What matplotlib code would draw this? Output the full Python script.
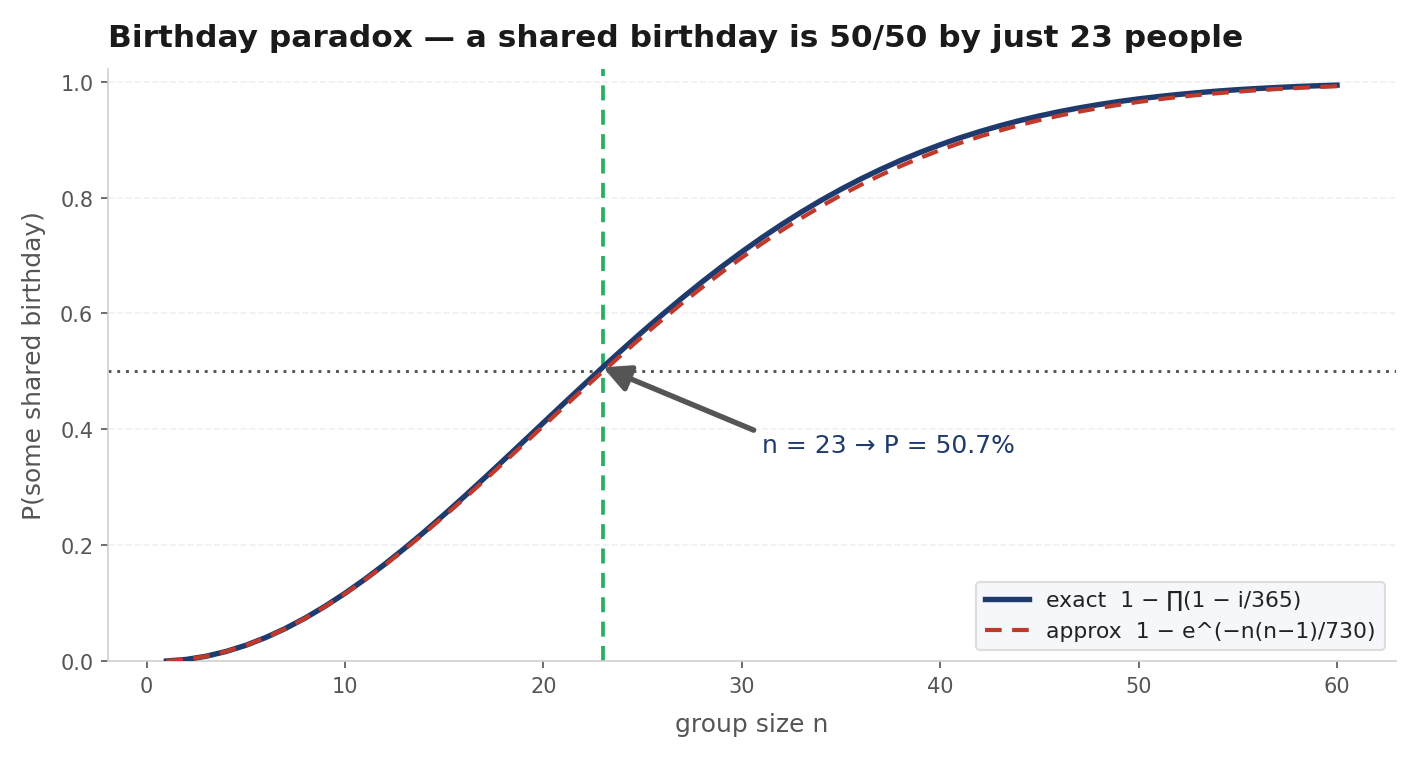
import numpy as np
import matplotlib.pyplot as plt

plt.rcParams["font.family"] = ["DejaVu Sans"]

# group sizes and probabilities
n_vals = list(range(1, 61))

p_exact = [0.0, 0.0027, 0.0082, 0.0164, 0.0271, 0.0405, 0.0562, 0.0743, 0.0946, 0.1169,
           0.1411, 0.1670, 0.1944, 0.2231, 0.2529, 0.2836, 0.3150, 0.3469, 0.3791, 0.4114,
           0.4437, 0.4757, 0.5073, 0.5383, 0.5687, 0.5982, 0.6269, 0.6545, 0.6810, 0.7063,
           0.7305, 0.7533, 0.7750, 0.7953, 0.8144, 0.8322, 0.8487, 0.8641, 0.8782, 0.8912,
           0.9032, 0.9140, 0.9239, 0.9329, 0.9410, 0.9483, 0.9548, 0.9606, 0.9658, 0.9704,
           0.9744, 0.9780, 0.9811, 0.9839, 0.9863, 0.9883, 0.9901, 0.9917, 0.9930, 0.9941]

p_approx = [0.0, 0.0027, 0.0082, 0.0163, 0.0270, 0.0403, 0.0559, 0.0738, 0.0939, 0.1160,
            0.1399, 0.1654, 0.1924, 0.2207, 0.2500, 0.2802, 0.3110, 0.3425, 0.3740, 0.4058,
            0.4375, 0.4689, 0.5000, 0.5305, 0.5604, 0.5895, 0.6178, 0.6450, 0.6712, 0.6963,
            0.7203, 0.7431, 0.7646, 0.7850, 0.8041, 0.8220, 0.8388, 0.8543, 0.8687, 0.8820,
            0.8942, 0.9055, 0.9157, 0.9251, 0.9337, 0.9414, 0.9483, 0.9545, 0.9601, 0.9651,
            0.9696, 0.9736, 0.9771, 0.9802, 0.9829, 0.9853, 0.9874, 0.9892, 0.9908, 0.9922]

n_half = 23
p_half = 0.507

fig = plt.figure(figsize=(9.43, 5.06), dpi=150)
ax = fig.add_axes([0.0763, 0.1278, 0.9103, 0.78])

ax.plot(n_vals, p_exact, color="#1f3b6e", lw=2.6, label="exact  1 − ∏(1 − i/365)", zorder=3)
ax.plot(n_vals, p_approx, color="#c0392b", lw=2.0, ls=(0, (4, 2.5)),
        label="approx  1 − e^(−n(n−1)/730)", zorder=4)

ax.axvline(n_half, color="#27ae60", lw=1.8, ls=(0, (4, 2.5)), zorder=2)
ax.axhline(0.5, color="#555555", lw=1.4, ls=(0, (1, 2)), zorder=2)

ax.annotate("n = 23 → P = 50.7%", xy=(n_half, p_half), xytext=(31, 0.36),
            fontsize=12, color="#1f3b6e",
            arrowprops=dict(arrowstyle="-|>,head_length=0.9,head_width=0.45",
                            color="#555555", lw=2.6, relpos=(0, 1),
                            shrinkA=2, shrinkB=0))

ax.set_ylim(0, 1.022)
ax.set_xlabel("group size n", fontsize=12, color="#555555", labelpad=8)
ax.set_ylabel("P(some shared birthday)", fontsize=12, color="#555555", labelpad=7)
ax.set_title("Birthday paradox — a shared birthday is 50/50 by just 23 people",
             loc="left", fontsize=15, fontweight="bold", color="#1a1a1a", pad=11)

ax.grid(axis="y", color="#f0f0f4", ls="--", lw=0.8)
ax.set_axisbelow(True)
for s in ["top", "right"]:
    ax.spines[s].set_visible(False)
for s in ["left", "bottom"]:
    ax.spines[s].set_color("#d0d0d0")
ax.tick_params(colors="#555555", labelsize=10)

leg = ax.legend(loc="lower right", fontsize=10.5, frameon=True, facecolor="#f5f7fb",
                edgecolor="#dddddd", framealpha=1)
for t in leg.get_texts():
    t.set_color("#222222")

fig.savefig("out.png", dpi=150)
